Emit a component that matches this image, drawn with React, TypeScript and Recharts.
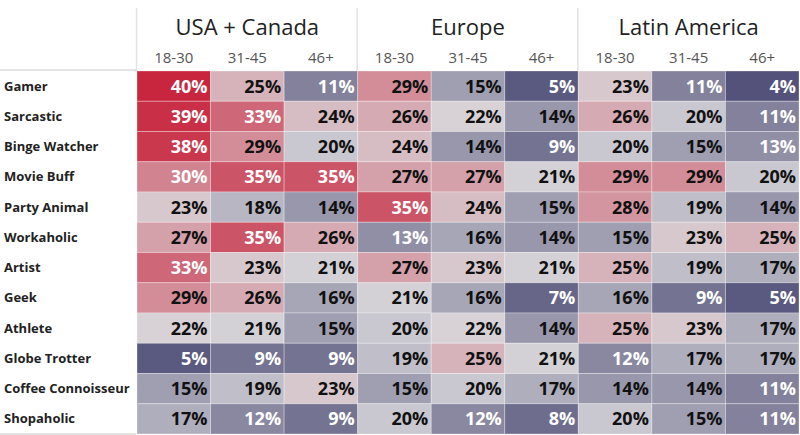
import React from 'react';
import { ScatterChart, Scatter, XAxis, YAxis, Customized } from 'recharts';

const traits = ['Gamer', 'Sarcastic', 'Binge Watcher', 'Movie Buff', 'Party Animal', 'Workaholic', 'Artist', 'Geek', 'Athlete', 'Globe Trotter', 'Coffee Connoisseur', 'Shopaholic'];
const regions = ['USA + Canada', 'Europe', 'Latin America'];
const ages = ['18-30', '31-45', '46+'];

const usa1830 = [40, 39, 38, 30, 23, 27, 33, 29, 22, 5, 15, 17];
const usa3145 = [25, 33, 29, 35, 18, 35, 23, 26, 21, 9, 19, 12];
const usa46 = [11, 24, 20, 35, 14, 26, 21, 16, 15, 9, 23, 9];
const eu1830 = [29, 26, 24, 27, 35, 13, 27, 21, 20, 19, 15, 20];
const eu3145 = [15, 22, 14, 27, 24, 16, 23, 16, 22, 25, 20, 12];
const eu46 = [5, 14, 9, 21, 15, 14, 21, 7, 14, 21, 17, 8];
const la1830 = [23, 26, 20, 29, 28, 15, 25, 16, 25, 12, 14, 20];
const la3145 = [11, 20, 15, 29, 19, 23, 19, 9, 23, 17, 14, 15];
const la46 = [4, 11, 13, 20, 14, 25, 17, 5, 17, 17, 11, 11];

const columns = [usa1830, usa3145, usa46, eu1830, eu3145, eu46, la1830, la3145, la46];

const W = 800;
const H = 435;
const LEFT = 137;
const TOP = 71;
const CELL_W = (W - LEFT - 1) / 9;
const CELL_H = (H - TOP - 1) / 12;
const FONT = '"Open Sans", "Noto Sans", sans-serif';

const data = columns.flatMap((col, ci) =>
  col.map((v, ri) => ({ x: ci, y: ri, v }))
);

const MIN = 4;
const MAX = 40;
const MID = 21.5;
const LO = [84, 82, 122];
const MIDC = [217, 216, 219];
const HI = [200, 38, 62];

function mix(a: number[], b: number[], t: number) {
  return `rgb(${a.map((c, i) => Math.round(c + (b[i] - c) * t)).join(',')})`;
}
function color(v: number) {
  if (v >= MID) return mix(MIDC, HI, Math.pow((v - MID) / (MAX - MID), 0.95));
  return mix(MIDC, LO, Math.pow((MID - v) / (MID - MIN), 0.85));
}

const Cell = (props: any) => {
  const { cx, cy, payload } = props;
  if (cx == null || cy == null) return null;
  const v = payload.v;
  const white = v >= 30 || v <= 13;
  return (
    <g>
      <rect x={cx - CELL_W / 2} y={cy - CELL_H / 2} width={CELL_W} height={CELL_H} fill={color(v)} stroke="rgba(255,255,255,0.3)" strokeWidth={1} />
      <text x={cx + CELL_W / 2 - 3} y={cy + 6.5} textAnchor="end" fontFamily={FONT} fontWeight={700} fontSize={18} fill={white ? '#ffffff' : '#111111'}>
        {v}%
      </text>
    </g>
  );
};

const XTick = (props: any) => {
  const { x, index } = props;
  return (
    <g>
      <text x={x} y={63} textAnchor="middle" fontFamily={FONT} fontSize={15} fill="#555">
        {ages[index % 3]}
      </text>
      {index % 3 === 1 && (
        <text x={x} y={35} textAnchor="middle" fontFamily={FONT} fontSize={22} fill="#222">
          {regions[Math.floor(index / 3)]}
        </text>
      )}
      {index % 3 === 0 && (
        <line x1={x - CELL_W / 2 - 0.5} x2={x - CELL_W / 2 - 0.5} y1={8} y2={TOP} stroke="#e2e2e2" strokeWidth={1.5} />
      )}
    </g>
  );
};

const YTick = (props: any) => {
  const { y, payload } = props;
  return (
    <text x={4} y={y + 4.5} textAnchor="start" fontFamily={FONT} fontWeight={700} fontSize={13} fill="#222">
      {traits[payload.value]}
    </text>
  );
};

const Lines = () => (
  <g>
    <line x1={0} x2={LEFT - 1} y1={TOP - 1} y2={TOP - 1} stroke="#e4e4e4" strokeWidth={2} />
    <line x1={0} x2={LEFT - 1} y1={H - 1} y2={H - 1} stroke="#e4e4e4" strokeWidth={2} />
  </g>
);

export default function App() {
  return (
    <div style={{ position: 'absolute', left: 0, top: 0, width: W, height: H, background: '#fff' }}>
      <ScatterChart width={W} height={H} margin={{ top: 0, right: 1, bottom: 1, left: 0 }}>
        <XAxis
          type="number"
          dataKey="x"
          orientation="top"
          domain={[-0.5, 8.5]}
          ticks={[0, 1, 2, 3, 4, 5, 6, 7, 8]}
          height={TOP}
          axisLine={false}
          tickLine={false}
          tick={<XTick />}
          interval={0}
        />
        <YAxis
          type="number"
          dataKey="y"
          reversed
          domain={[-0.5, 11.5]}
          ticks={[0, 1, 2, 3, 4, 5, 6, 7, 8, 9, 10, 11]}
          width={LEFT}
          axisLine={false}
          tickLine={false}
          tick={<YTick />}
          interval={0}
        />
        <Customized component={Lines} />
        <Scatter data={data} shape={<Cell />} isAnimationActive={false} />
      </ScatterChart>
    </div>
  );
}
